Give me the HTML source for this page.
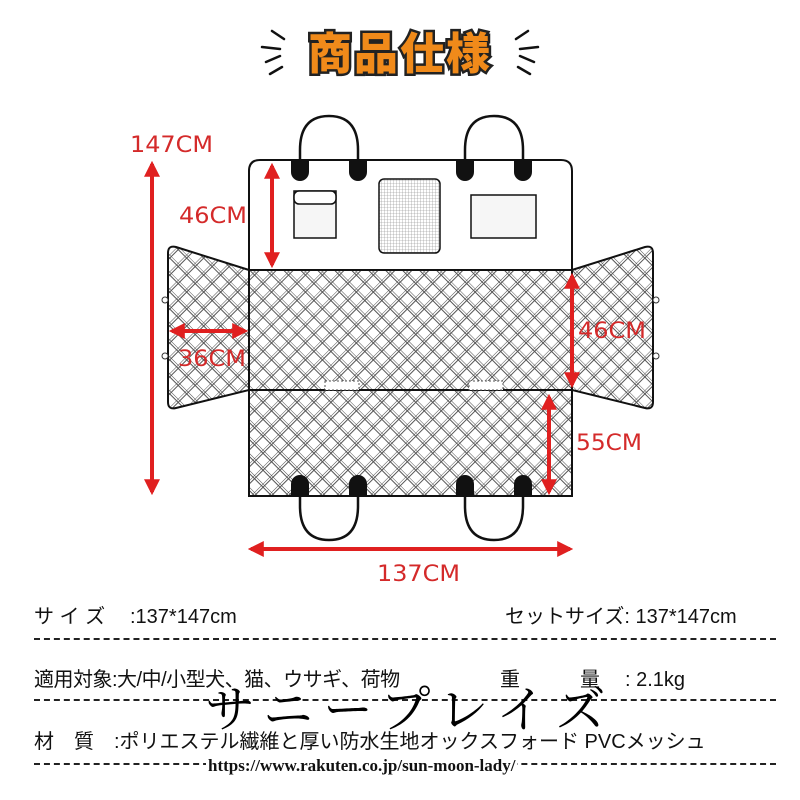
<!DOCTYPE html>
<html><head><meta charset="utf-8"><style>
body{margin:0;background:#fff;width:800px;height:800px;overflow:hidden;position:relative;font-family:"Liberation Sans","Noto Sans CJK JP",sans-serif}
.t{position:absolute;white-space:nowrap;color:#111;font-size:20px;line-height:28px}
.d{position:absolute;left:34px;width:742px;border-top:2px dashed #222}
</style></head><body>
<svg width="800" height="800" style="position:absolute;left:0;top:0">
<defs>
<pattern id="q" width="12" height="12" patternUnits="userSpaceOnUse" patternTransform="rotate(45)">
<rect width="12" height="12" fill="#fff"/>
<path d="M0 0H12M0 2.5H12M0 0V12M2.5 0V12" stroke="#555" stroke-width="1"/>
</pattern>
<pattern id="m" width="3" height="3" patternUnits="userSpaceOnUse"><rect width="3" height="3" fill="#fff"/><path d="M0 0H3M0 0V3" stroke="#888" stroke-width="0.6"/></pattern>
<marker id="a" viewBox="0 0 10 10" refX="8" refY="5" markerWidth="4" markerHeight="4" orient="auto-start-reverse"><path d="M0 0L10 5L0 10z" fill="#e02020"/></marker>
</defs>
<g stroke="#111" stroke-width="2.5" stroke-linecap="round">
<path d="M272 31l12 8M262 47l18 2M266 62l14-6M270 74l12-7"/>
<path d="M528 31l-12 8M538 47l-18 2M534 62l-14-6M530 74l-12-7"/>
</g>
<text x="400" y="69" text-anchor="middle" font-family="Noto Sans CJK JP,sans-serif" font-weight="900" font-size="44" fill="#f08a1a" stroke="#222" stroke-width="5" paint-order="stroke" letter-spacing="2">商品仕様</text>
<path d="M249 270L176 247Q168 245 168 253V402Q168 410 176 408L249 390Z" fill="url(#q)" stroke="#111" stroke-width="2"/>
<path d="M572 270L645 247Q653 245 653 253V402Q653 410 645 408L572 390Z" fill="url(#q)" stroke="#111" stroke-width="2"/>
<circle cx="165" cy="300" r="3" fill="#fff" stroke="#333"/><circle cx="165" cy="356" r="3" fill="#fff" stroke="#333"/>
<circle cx="656" cy="300" r="3" fill="#fff" stroke="#333"/><circle cx="656" cy="356" r="3" fill="#fff" stroke="#333"/>
<path d="M249 270V171Q249 160 260 160H561Q572 160 572 171V270Z" fill="#fff" stroke="#111" stroke-width="2"/>
<rect x="249" y="270" width="323" height="226" fill="url(#q)" stroke="#111" stroke-width="2"/>
<line x1="249" y1="390" x2="572" y2="390" stroke="#111" stroke-width="2"/>
<rect x="325" y="381" width="34" height="9" fill="#fff" stroke="#555" stroke-dasharray="2 2"/>
<rect x="469" y="381" width="34" height="9" fill="#fff" stroke="#555" stroke-dasharray="2 2"/>
<g fill="none" stroke="#111" stroke-width="2.5">
<path d="M300 162V150Q300 116 329 116Q358 116 358 150V162"/>
<path d="M465 162V150Q465 116 494 116Q523 116 523 150V162"/>
<path d="M300 494V506Q300 540 329 540Q358 540 358 506V494"/>
<path d="M465 494V506Q465 540 494 540Q523 540 523 506V494"/>
</g>
<g fill="#111">
<path d="M291 160h18v12a9 9 0 0 1-18 0z"/><path d="M349 160h18v12a9 9 0 0 1-18 0z"/>
<path d="M456 160h18v12a9 9 0 0 1-18 0z"/><path d="M514 160h18v12a9 9 0 0 1-18 0z"/>
<path d="M291 496h18v-12a9 9 0 0 0-18 0z"/><path d="M349 496h18v-12a9 9 0 0 0-18 0z"/>
<path d="M456 496h18v-12a9 9 0 0 0-18 0z"/><path d="M514 496h18v-12a9 9 0 0 0-18 0z"/>
</g>
<rect x="294" y="191" width="42" height="47" fill="#f6f6f6" stroke="#111" stroke-width="1.5"/>
<rect x="294" y="191" width="42" height="13" rx="5" fill="#fff" stroke="#111" stroke-width="1.5"/>
<rect x="379" y="179" width="61" height="74" rx="5" fill="url(#m)" stroke="#111" stroke-width="1.5"/>
<rect x="471" y="195" width="65" height="43" fill="#f6f6f6" stroke="#111" stroke-width="1.5"/>
<g stroke="#e02020" stroke-width="4" marker-start="url(#a)" marker-end="url(#a)">
<line x1="152" y1="164" x2="152" y2="492"/>
<line x1="272" y1="166" x2="272" y2="265"/>
<line x1="172" y1="331" x2="245" y2="331"/>
<line x1="572" y1="276" x2="572" y2="385"/>
<line x1="549" y1="397" x2="549" y2="492"/>
<line x1="251" y1="549" x2="570" y2="549"/>
</g>
<g fill="#d42a2a" font-size="22" font-family="DejaVu Sans,sans-serif">
<text x="130" y="152" textLength="83" lengthAdjust="spacingAndGlyphs">147CM</text>
<text x="179" y="223" textLength="68" lengthAdjust="spacingAndGlyphs">46CM</text>
<text x="178" y="366" textLength="68" lengthAdjust="spacingAndGlyphs">36CM</text>
<text x="578" y="338" textLength="68" lengthAdjust="spacingAndGlyphs">46CM</text>
<text x="576" y="450" textLength="66" lengthAdjust="spacingAndGlyphs">55CM</text>
<text x="377" y="581" textLength="83" lengthAdjust="spacingAndGlyphs">137CM</text>
</g>
</svg>
<div class="t" style="left:34px;top:603px">サ イ ズ</div>
<div class="t" style="left:130px;top:603px">:137*147cm</div>
<div class="t" style="left:505px;top:603px">セットサイズ: 137*147cm</div>
<div class="d" style="top:638px"></div>
<div class="t" style="left:34px;top:666px;letter-spacing:-0.5px">適用対象:大/中/小型犬、猫、ウサギ、荷物</div>
<div class="t" style="left:500px;top:666px">重</div>
<div class="t" style="left:580px;top:666px">量</div>
<div class="t" style="left:625px;top:666px">: 2.1kg</div>
<div class="d" style="top:699px"></div>
<div class="t" style="left:34px;top:728px">材　質　:ポリエステル繊維と厚い防水生地オックスフォード PVCメッシュ</div>
<div class="d" style="top:763px"></div>
<div class="t" style="left:205px;top:670px;font-size:50px;line-height:normal;font-family:'Noto Serif CJK SC',serif;letter-spacing:10px;color:#000">サニープレイズ</div>
<div class="t" style="left:206px;top:756px;font-size:17px;line-height:normal;font-family:'Liberation Serif',serif;font-weight:bold;background:#fff;padding:0 2px">https://www.rakuten.co.jp/sun-moon-lady/</div>
</body></html>
